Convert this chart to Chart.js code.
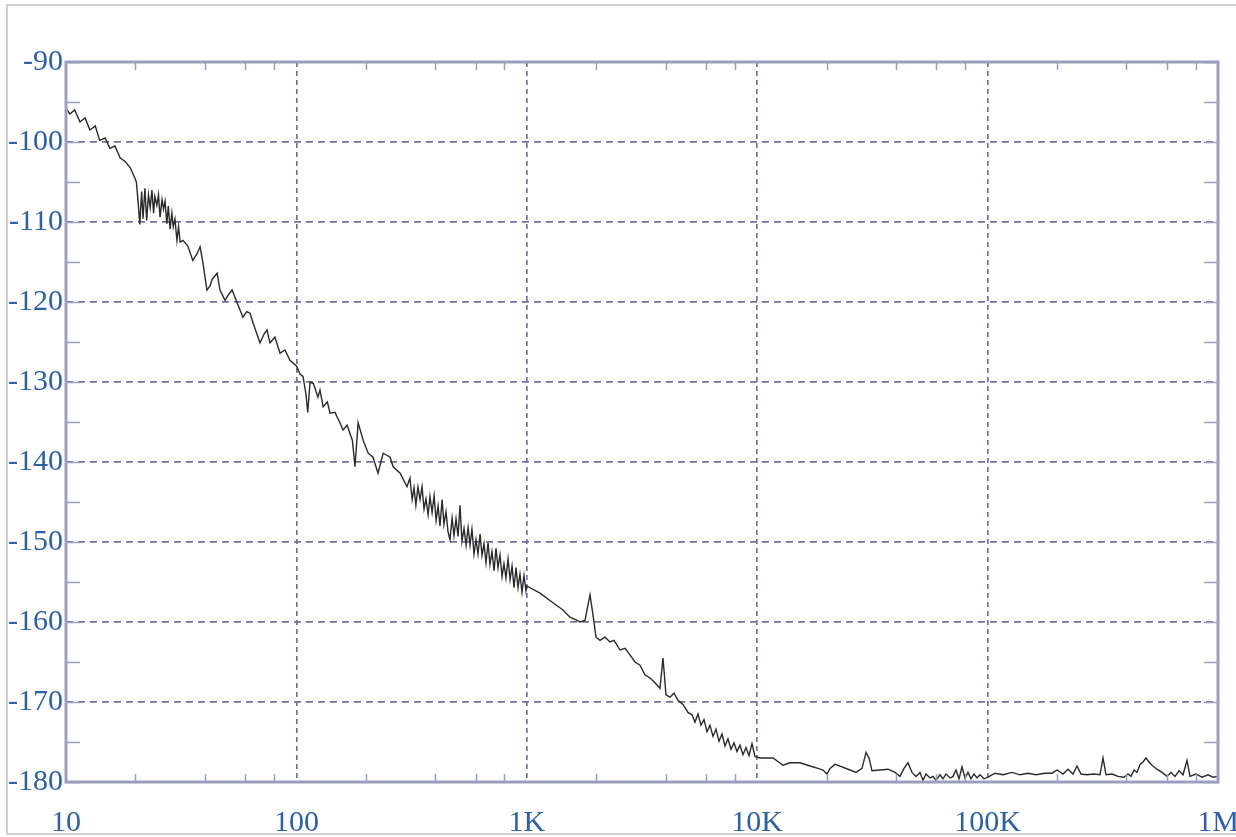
<!DOCTYPE html>
<html>
<head>
<meta charset="utf-8">
<title>Phase noise</title>
<script src="https://cdn.jsdelivr.net/npm/chart.js@4.4.0/dist/chart.umd.min.js"></script>
<style>
  html, body { margin: 0; padding: 0; background: #fff; }
  #wrap { width: 1236px; height: 837px; overflow: hidden; }
</style>
</head>
<body>
<div id="wrap"><canvas id="noiseChart" width="1236" height="837"></canvas></div>
<script>
const freqHz = [
  10, 10.4, 10.9, 11.5, 12.1, 12.7, 13.4, 14.0, 14.8, 15.5, 16.3, 17.2, 18.0, 19.0, 19.9,
  20.2, 20.6, 20.9, 21.3, 21.6, 22.0, 22.4, 22.8, 23.2, 23.6, 24.0, 24.3, 24.8, 25.2, 25.6,
  26.1, 26.5, 26.9, 27.4, 27.8, 28.3, 28.8, 29.2, 29.7, 30.3, 30.8, 31.3,
  32.2, 33.8, 35.5, 37.0, 38.2, 39.3, 40.9, 42.2, 43.0, 45.3, 46.6, 49.0, 51.0, 52.6, 55.3,
  58.6, 60.9, 62.9, 64.8, 67.4, 69.5, 72.4, 74.5, 76.8, 80.7, 84.9, 89.2, 93.8, 100,
  103.7, 106.8, 110, 112, 114.6, 118.5, 124, 126.6, 130.6, 136.3, 140, 147, 154.5, 159.3,
  166, 175, 179.6, 185.3, 195, 205, 215, 226, 238, 255, 263, 282, 302,
  311, 318, 324, 330, 337, 344, 351, 358, 365, 373, 380, 388, 396, 404, 412, 420, 429, 437,
  446, 455, 464, 474, 483, 493, 503, 513, 523, 534, 545, 556, 567, 578, 590, 602, 614, 627,
  639, 652, 665, 679, 692, 706, 721, 735, 750, 765, 781, 796, 812, 829, 846, 863, 880, 898,
  916, 934, 953, 972, 992, 1000,
  1141, 1299, 1436, 1540, 1652, 1702, 1789, 1843, 1881, 1938, 1997, 2078, 2184, 2297, 2391,
  2539, 2669, 2805, 2949, 3100, 3258, 3425, 3601, 3785, 3900, 4019, 4183, 4354, 4532, 4764,
  5008, 5212, 5371, 5534, 5703, 5876, 6055, 6239, 6429, 6625, 6826, 7034, 7248, 7469, 7696,
  7930, 8171, 8420, 8676, 8940, 9213, 9493, 9783, 10285,
  11710, 12941, 13880, 15340, 16954, 18360, 19300, 20090, 20700, 21766, 23340, 25280, 26850,
  28500, 29670, 30570, 31500, 34130, 36970, 39640, 41680, 43370, 45120, 46970, 48900, 50900,
  52440, 54040, 56230, 57950, 59710, 62150, 64040, 65990, 68690, 70780, 72930, 75150, 77440,
  79800, 82220, 84730, 87300, 89950, 92690, 96470, 100400,
  107700, 116650, 127600, 138200, 149800, 162300, 177500, 190300, 200100, 212400, 223400,
  234800, 244400, 254300, 270100, 289600, 307500, 316900, 326500, 346700, 368100, 390900,
  406800, 419200, 432000, 445000, 458600, 472600, 486800, 501700, 516900, 543500, 571300,
  600500, 625200, 650700, 677200, 704800, 733600, 755900, 802700, 852400, 905000, 951300, 1000000
];
const levelDbc = [
  -95.8, -96.5, -96.0, -97.5, -97.0, -98.5, -98.0, -99.8, -99.5, -100.8, -100.5, -102.0, -102.4, -103.2, -104.5,
  -105.0, -107.8, -110.3, -106.2, -109.6, -105.8, -109.8, -106.6, -108.2, -106.0, -108.9, -106.8, -107.9, -106.6, -109.4,
  -107.2, -108.4, -107.4, -110.2, -108.0, -110.9, -108.9, -110.6, -109.6, -112.3, -110.6, -112.5,
  -112.3, -113.0, -114.8, -114.0, -113.1, -115.1, -118.5, -118.0, -117.2, -116.4, -118.5, -119.8, -119.0, -118.5, -120.1,
  -121.9, -121.2, -121.4, -122.6, -124.0, -125.1, -124.0, -123.5, -125.1, -124.4, -126.4, -126.0, -127.3, -128.0,
  -129.0, -129.3, -131.5, -133.8, -130.0, -130.2, -131.9, -131.0, -133.1, -132.5, -133.9, -133.8, -135.1, -136.0,
  -135.4, -137.3, -140.6, -135.1, -137.3, -138.9, -139.4, -141.4, -138.9, -139.4, -140.6, -141.4, -143.1,
  -142.0, -144.7, -143.2, -145.4, -143.1, -144.7, -143.1, -145.9, -144.6, -146.6, -144.3, -146.3, -144.2, -147.3, -145.5, -148.0, -144.7, -147.8,
  -146.2, -148.7, -149.7, -147.0, -149.2, -147.1, -149.3, -145.4, -149.9, -148.3, -150.4, -148.2, -150.4, -148.4, -151.5, -149.7, -151.5, -149.0,
  -151.7, -150.2, -152.6, -150.1, -152.8, -151.2, -153.6, -150.8, -153.2, -151.6, -154.3, -152.7, -154.5, -152.1, -154.7, -153.0, -155.7, -153.2,
  -155.7, -154.0, -156.3, -154.2, -156.1, -155.5,
  -156.4, -157.6, -158.5, -159.4, -159.8, -160.0, -159.8, -157.9, -156.6, -159.1, -161.9, -162.3, -161.9, -162.5, -162.3,
  -163.5, -163.3, -164.1, -165.0, -165.4, -166.6, -167.0, -167.6, -168.3, -164.5, -169.1, -169.4, -168.9, -169.8, -170.3,
  -171.3, -171.6, -172.5, -171.5, -172.9, -172.2, -173.7, -172.9, -174.3, -173.4, -174.9, -174.0, -175.5, -174.6, -175.9,
  -175.1, -176.2, -175.4, -176.6, -175.7, -176.7, -175.2, -176.8, -177.0,
  -177.0, -177.9, -177.6, -177.6, -178.0, -178.3, -178.5, -179.0, -178.3, -177.8, -178.1, -178.5, -178.8,
  -178.3, -176.3, -177.0, -178.6, -178.5, -178.4, -178.8, -179.3, -178.3, -177.6, -178.8, -179.3, -178.8,
  -179.8, -179.0, -179.5, -179.3, -179.8, -179.1, -179.6, -179.0, -179.5, -179.3, -178.5, -179.6, -178.1,
  -179.5, -178.8, -179.6, -179.0, -179.5, -179.1, -179.6, -179.4,
  -178.9, -179.1, -178.8, -179.1, -178.9, -179.1, -178.9, -178.9, -178.5, -179.0, -178.4,
  -179.0, -178.0, -179.0, -179.1, -179.0, -179.1, -177.0, -179.1, -179.0, -179.3, -179.4,
  -179.0, -179.3, -178.5, -178.8, -177.8, -177.5, -177.0, -177.5, -177.9, -178.4, -178.8,
  -179.3, -178.8, -179.3, -178.6, -179.1, -177.3, -179.3, -179.0, -179.4, -179.1, -179.4, -179.3
];

const xTickValues = [10, 100, 1000, 10000, 100000, 1000000];
const xTickLabels = ['10', '100', '1K', '10K', '100K', '1M'];
const xMinorSteps = [2, 4, 6, 8];
const yMin = -180;
const yMax = -90;
const yStep = 10;

const labelFont = { family: "'Liberation Serif', 'DejaVu Serif', serif", size: 30 };
const labelColor = '#2d60a4';
const gridColor = '#7272a2';
const frameColor = '#9d9dbd';

const points = freqHz.map((f, i) => ({ x: f, y: levelDbc[i] }));

// outer picture frame, plot border and the inward tick marks
const plotFrame = {
    id: 'plotFrame',
    beforeDraw(chart) {
        const ctx = chart.ctx;
        ctx.save();
        ctx.strokeStyle = '#cfcfcf';
        ctx.lineWidth = 2;
        ctx.strokeRect(7, 5, 1240, 829);
        ctx.restore();
    },
    afterDraw(chart) {
        const { ctx, chartArea: a, scales: { x, y } } = chart;
        ctx.save();
        ctx.strokeStyle = frameColor;
        ctx.lineWidth = 1.5;
        ctx.beginPath();
        xTickValues.slice(0, -1).forEach(dec => {
            xMinorSteps.forEach(m => {
                const px = Math.round(x.getPixelForValue(dec * m)) + 0.5;
                ctx.moveTo(px, a.bottom);
                ctx.lineTo(px, a.bottom - 8);
                ctx.moveTo(px, a.top);
                ctx.lineTo(px, a.top + 8);
            });
        });
        for (let v = yMin; v <= yMax; v += yStep / 2) {
            const py = Math.round(y.getPixelForValue(v)) + 0.5;
            ctx.moveTo(a.left, py);
            ctx.lineTo(a.left + 14, py);
            ctx.moveTo(a.right, py);
            ctx.lineTo(a.right - 14, py);
        }
        ctx.stroke();
        ctx.lineWidth = 3;
        ctx.strokeRect(a.left, a.top, a.right - a.left, a.bottom - a.top);
        ctx.restore();
    }
};

new Chart(document.getElementById('noiseChart').getContext('2d'), {
    type: 'line',
    data: {
        datasets: [{
            data: points,
            borderColor: '#2a2a2a',
            borderWidth: 1.4,
            pointRadius: 0,
            tension: 0,
            fill: false
        }]
    },
    options: {
        responsive: false,
        animation: false,
        devicePixelRatio: 1,
        layout: { padding: { left: 0, top: 62, right: 18, bottom: 0 } },
        plugins: {
            legend: { display: false },
            tooltip: { enabled: false }
        },
        scales: {
            x: {
                type: 'logarithmic',
                min: 10,
                max: 1000000,
                afterBuildTicks: s => { s.ticks = xTickValues.map(v => ({ value: v })); },
                afterFit: s => { s.height = 55; s.paddingLeft = 0; s.paddingRight = 0; },
                ticks: {
                    autoSkip: false,
                    maxRotation: 0,
                    padding: 23,
                    font: labelFont,
                    color: labelColor,
                    callback: v => xTickLabels[xTickValues.indexOf(v)]
                },
                grid: { color: gridColor, lineWidth: 1.7, drawTicks: false },
                border: { display: false, dash: [5, 4] }
            },
            y: {
                min: yMin,
                max: yMax,
                afterFit: s => { s.width = 66; },
                ticks: {
                    stepSize: yStep,
                    padding: 3,
                    font: labelFont,
                    color: labelColor
                },
                grid: { color: gridColor, lineWidth: 1.7, drawTicks: false },
                border: { display: false, dash: [7, 5] }
            }
        }
    },
    plugins: [plotFrame]
});
</script>
</body>
</html>
